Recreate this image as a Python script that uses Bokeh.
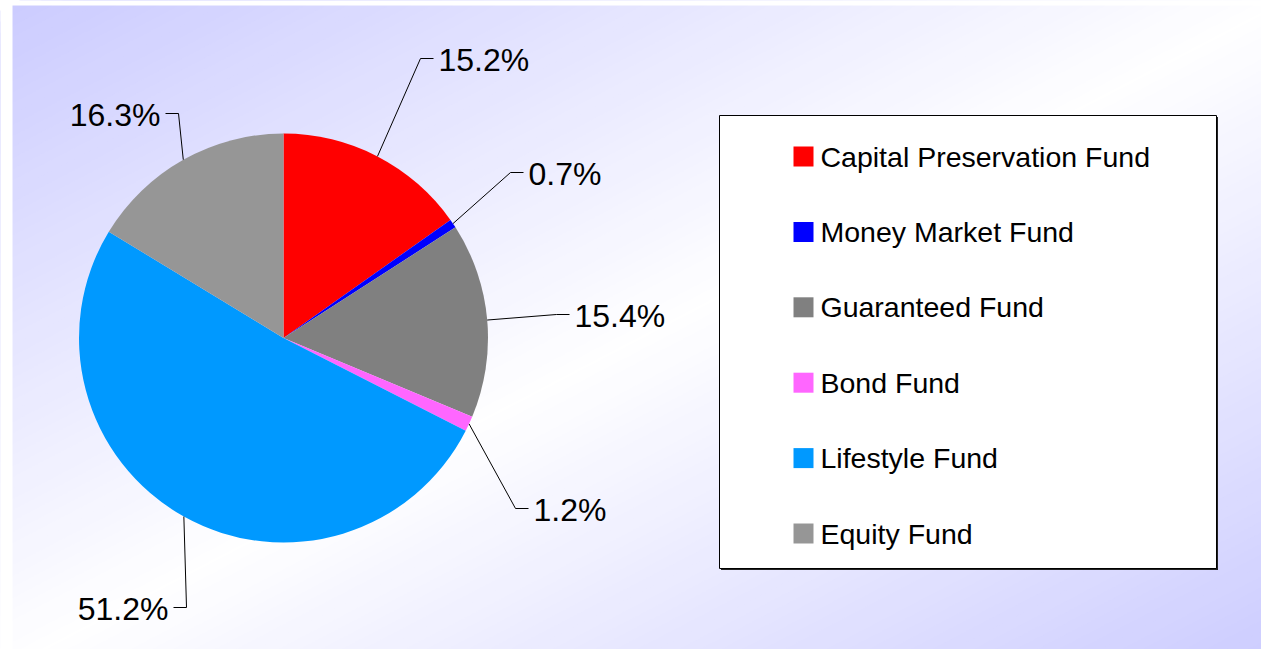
import numpy as np
from bokeh.plotting import figure
from bokeh.models import Range1d
from bokeh.core.properties import value
from bokeh.embed import file_html
from bokeh.resources import INLINE

# ---- data ----
categories = ["Capital Preservation Fund", "Money Market Fund", "Guaranteed Fund",
              "Bond Fund", "Lifestyle Fund", "Equity Fund"]
shares = [15.2, 0.7, 15.4, 1.2, 51.2, 16.3]
colors = ["#FF0000", "#0000FF", "#808080", "#FF66FF", "#0099FF", "#969696"]

# ---- layout (pixels of the picture) ----
W, H = 1261, 649
OX, OY = 0, 649


def X(sx):
    return sx - OX


def Y(sy):
    return OY - sy


PIE_CX, PIE_CY, PIE_R = 283, 337.5, 204.5
label_elbows = [(420, 58), (510, 172), (556, 314), (515, 508), (186, 607), (178, 113)]
label_sides = [1, 1, 1, 1, -1, -1]
TICK, GAP = 13, 5
LEG_BOX = (719, 115, 1216, 568)  # left, top, right, bottom
LEG_SQ_X, LEG_TXT_X, LEG_Y0, LEG_DY = 803, 820, 156, 75.4
FONT = value("Liberation Sans")

p = figure(width=W, height=H, x_range=Range1d(0, W), y_range=Range1d(0, H),
           output_backend="svg", toolbar_location=None, min_border=0,
           x_axis_type=None, y_axis_type=None)
p.outline_line_color = None
p.grid.visible = False
p.background_fill_color = "white"
p.border_fill_color = "white"

# ---- background diagonal gradient (lavender - white - lavender) ----
GX0, GY0, GW, GH = 12, 5, 1265, 660
N = 60
xs, ys, fills = [], [], []
for k in range(N + 1):
    d = 1 - k / N
    c1, c2 = 1 - d - 0.002, 1 + d + 0.002

    def sx(c, syy):
        return GX0 + GW * (c - (syy - GY0) / GH)

    top, bot = -60, 740
    xs.append([X(sx(c1, top)), X(sx(c2, top)), X(sx(c2, bot)), X(sx(c1, bot))])
    ys.append([Y(top), Y(top), Y(bot), Y(bot)])
    v = int(round(255 - 51 * d))
    fills.append("#%02x%02xff" % (v, v))
p.patches(xs, ys, fill_color=fills, line_color=None)
p.quad(left=-5, right=X(GX0), bottom=-5, top=H + 5, fill_color="white", line_color=None)
p.quad(left=-5, right=W + 5, bottom=Y(GY0), top=H + 5, fill_color="white", line_color=None)

# ---- pie ----
frac = np.array(shares) / np.sum(shares)
cum = np.concatenate([[0.0], np.cumsum(frac)])
start = np.pi / 2 - 2 * np.pi * cum[:-1]
end = np.pi / 2 - 2 * np.pi * cum[1:]
mid = (start + end) / 2
p.wedge(x=X(PIE_CX), y=Y(PIE_CY), radius=PIE_R, start_angle=start, end_angle=end,
        direction="clock", fill_color=colors, line_color=None)

# ---- labels with leader lines ----
lx, ly, tx, ty, tt, ta = [], [], [], [], [], []
for i, m in enumerate(mid):
    ex = X(PIE_CX) + PIE_R * np.cos(m)
    ey = Y(PIE_CY) + PIE_R * np.sin(m)
    bx, by = label_elbows[i]
    s = label_sides[i]
    lx.append([ex, X(bx), X(bx + s * TICK)])
    ly.append([ey, Y(by), Y(by)])
    tx.append(X(bx + s * (TICK + GAP)))
    ty.append(Y(by + 1))
    tt.append("%.1f%%" % shares[i])
    ta.append("left" if s > 0 else "right")
p.multi_line(lx, ly, line_color="black", line_width=1)
p.text(x=tx, y=ty, text=tt, text_align=ta, text_baseline="middle",
       text_font=FONT, text_font_size="32px", text_color="black")

# ---- legend ----
l, t, r, b = LEG_BOX
p.quad(left=X(l) + 1.5, right=X(r) + 1.5, top=Y(t) - 1.5, bottom=Y(b) - 1.5,
       fill_color="#222222", line_color=None)
p.quad(left=X(l), right=X(r), top=Y(t), bottom=Y(b),
       fill_color="white", line_color="black", line_width=1)
rows = [Y(LEG_Y0 + i * LEG_DY) for i in range(len(categories))]
p.rect(x=[X(LEG_SQ_X)] * len(categories), y=rows, width=20, height=20,
       fill_color=colors, line_color=None)
p.text(x=[X(LEG_TXT_X)] * len(categories), y=rows, text=categories,
       text_align="left", text_baseline="middle", text_font=FONT,
       text_font_size="28.5px", text_color="black")

open("out.html", "w").write(file_html(p, INLINE))
